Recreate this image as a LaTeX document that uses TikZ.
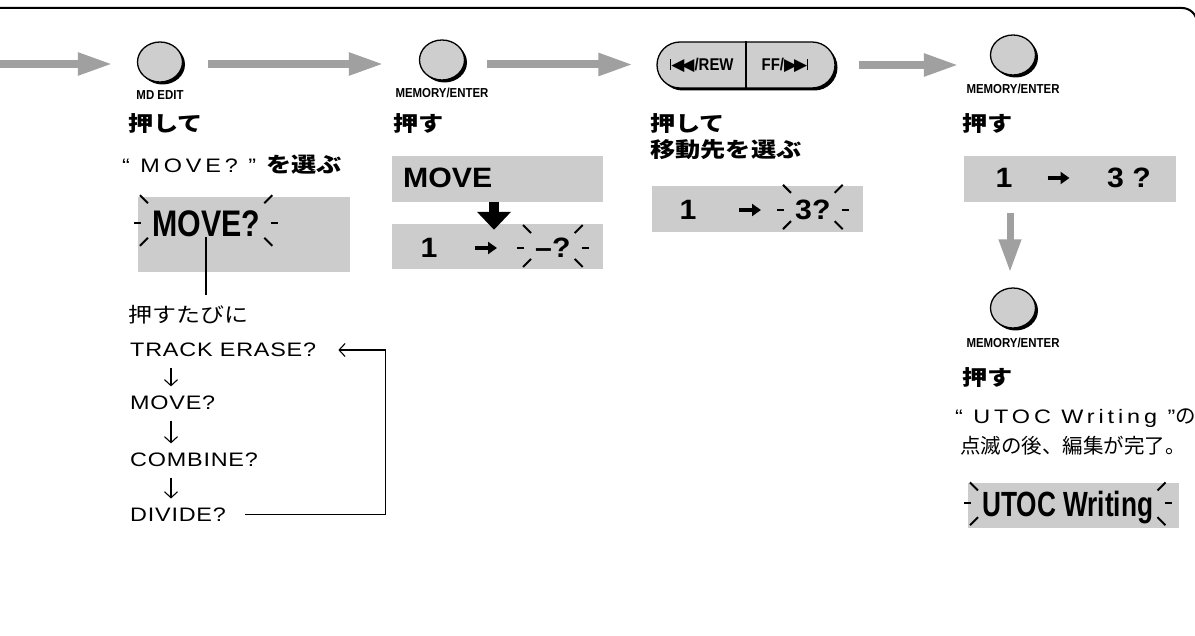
\documentclass[tikz,border=0pt]{standalone}
\usepackage{fontspec}
\setmainfont{Liberation Sans}[FakeStretch=1.2,LetterSpace=4]
\newfontfamily\quotefont{Liberation Sans}[FakeStretch=1.2,LetterSpace=20]
\newfontfamily\keyfont{Liberation Sans}[FakeStretch=0.88]
\newfontfamily\lcdfont{Liberation Sans}[FakeStretch=1.08]
\newfontfamily\lcdnarrow{Liberation Sans}[FakeStretch=0.82]
\newfontfamily\lcdslim{Liberation Sans}[FakeStretch=0.75]
\newfontfamily\jpbold{Noto Sans CJK JP}[FakeStretch=1.2]
\newfontfamily\jpwide{Noto Sans CJK JP}[FakeStretch=1.17]
\newfontfamily\jpreg{Noto Sans CJK JP}
\newfontfamily\symfont{DejaVu Sans}
\usetikzlibrary{arrows.meta,positioning,calc,shapes.geometric,shapes.misc,shadows}
\definecolor{lcdgray}{RGB}{204,204,204}
\definecolor{keygray}{RGB}{206,206,206}
\definecolor{arrowgray}{RGB}{160,160,160}

% flashing marks round a display text
\newcommand{\blinkmarks}[2][6pt]{%
  \draw[blinkln] ([xshift=-11pt]#2.west) -- ++(-7pt,0pt);
  \draw[blinkln] ([xshift=11pt]#2.east) -- ++(7pt,0pt);
  \draw[blinkln] ([shift={(-4pt,#1)}]#2.north west) -- ++(-8pt,8pt);
  \draw[blinkln] ([shift={(4pt,#1)}]#2.north east) -- ++(8pt,8pt);
  \draw[blinkln] ([shift={(-4pt,-1pt)}]#2.south west) -- ++(-8pt,-8pt);
  \draw[blinkln] ([shift={(4pt,-1pt)}]#2.south east) -- ++(8pt,-8pt);
}

\begin{document}
\begin{tikzpicture}[
  x=1pt,y=-1pt,
  panel/.style={line width=2pt,rounded corners=15pt},
  key/.style={ellipse,draw,line width=1.3pt,fill=keygray,minimum width=45pt,minimum height=40pt,inner sep=0pt,
    drop shadow={shadow xshift=2.5pt,shadow yshift=-2.5pt,fill=black,opacity=1}},
  pillkey/.style={rounded rectangle,draw,line width=1.3pt,fill=keygray,minimum width=178pt,minimum height=46pt,inner sep=0pt,
    drop shadow={shadow xshift=2.5pt,shadow yshift=-2.5pt,fill=black,opacity=1}},
  keylabel/.style={font=\keyfont\bfseries\fontsize{13pt}{15pt}\selectfont,inner sep=0pt},
  pilllabel/.style={font=\keyfont\bfseries\fontsize{17pt}{19pt}\selectfont,inner sep=0pt},
  lcd/.style={fill=lcdgray,draw=none,inner sep=0pt,minimum width=211pt,minimum height=46pt},
  lcdtxt/.style={font=\lcdfont\bfseries\fontsize{28pt}{30pt}\selectfont,inner sep=0pt},
  lcdarr/.style={line width=3.5pt,-{Triangle[length=9pt,width=12pt]}},
  jb/.style={font=\jpbold\bfseries\fontsize{21pt}{24pt}\selectfont,inner sep=0pt,anchor=west},
  jr/.style={font=\jpreg\fontsize{20.5pt}{24pt}\selectfont,inner sep=0pt,anchor=west},
  txt/.style={font=\fontsize{19.5pt}{22pt}\selectfont,inner sep=0pt,anchor=west},
  quote/.style={font=\quotefont\fontsize{19.5pt}{22pt}\selectfont,inner sep=0pt,anchor=base west},
  blinkln/.style={line width=2pt},
  conn/.style={line width=2.2pt},
  garr/.style={draw=arrowgray,line width=8pt,-{Triangle[length=35pt,width=21pt]}},
  garrdown/.style={draw=arrowgray,line width=7pt,-{Triangle[length=33pt,width=21pt]}},
  barr/.style={draw=black,line width=10pt,-{Triangle[length=18pt,width=33pt]}},
  thinarr/.style={line width=1.1pt,-{Straight Barb[length=6pt,width=13pt]}}
]
\useasboundingbox (0,0) rectangle (1195,636);
\draw[panel] (0,8) -- (1197,8) -- (1197,80);

% keys along the top
\node[key] (mdedit) at (160,62) {};
\node[keylabel,below=8pt of mdedit] (mdeditlab) {MD EDIT};
\node[key] (enter1) at (442,60) {};
\node[keylabel,below=7pt of enter1] (enter1lab) {MEMORY/ENTER};
\node[pillkey] (skip) at (746,65) {};
\draw[line width=1.2pt] (skip.north) -- (skip.south);
\node[pilllabel] (rew) at ([xshift=-44pt]skip.center) {\rule{1pt}{11pt}{\symfont\fontsize{17pt}{19pt}\selectfont ◀\kern-3pt◀}/REW};
\node[pilllabel] (ff) at ([xshift=39pt]skip.center) {FF/{\symfont\fontsize{17pt}{19pt}\selectfont ▶\kern-3pt▶}\rule{1pt}{11pt}};
\node[key] (enter2) at (1013,55) {};
\node[keylabel,below=8pt of enter2] (enter2lab) {MEMORY/ENTER};
\node[key] (enter3) at (1013,308) {};
\node[keylabel,below=9pt of enter3] (enter3lab) {MEMORY/ENTER};

\coordinate (entry) at (0,64);
\draw[garr,shorten >=24pt] (entry) -- (entry -| mdedit.west);
\draw[garr,shorten <=25pt,shorten >=35pt] ([yshift=-2pt]mdedit.east) -- ([yshift=-2pt]mdedit.east -| enter1.west);
\draw[garr,shorten <=22pt,shorten >=23pt] ([yshift=-4.5pt]enter1.east) -- ([yshift=-4.5pt]enter1.east -| skip.west);
\draw[garr,shorten <=23pt,shorten >=31pt] (skip.east) -- (skip.east -| enter2.west);

% column 1
\node[jb] (push1) at (128,124) {押して};
\node[quote] (pick1) at (122,172.5) {“ MOVE? ” {\jpbold\bfseries\fontsize{21pt}{24pt}\selectfont を選ぶ}};
\node[lcd,minimum width=212pt,minimum height=75pt] (lcd1) at (244,234.5) {};
\node[lcdtxt,font=\lcdnarrow\bfseries\fontsize{37pt}{40pt}\selectfont,anchor=west] (lcd1txt) at (152,223.5) {MOVE?};
\blinkmarks[7pt]{lcd1txt}
\node[jr,font=\jpwide\fontsize{20.5pt}{24pt}\selectfont] (each) at (128,315) {押すたびに};
\draw[conn,shorten >=10pt] (lcd1txt.south) -- (lcd1txt.south |- each.north);
\node[txt] (erase) at (130,350) {TRACK ERASE?};
\node[txt] (move) at (130,402.5) {MOVE?};
\node[txt] (combine) at (130,459.5) {COMBINE?};
\node[txt] (divide) at (130,514.5) {DIVIDE?};
\foreach \a/\b in {erase/move,move/combine,combine/divide}
  \draw[thinarr,shorten <=11pt,shorten >=9pt] ([xshift=41pt]\a.south west) -- ([xshift=41pt]\b.north west);
\draw[thinarr] ([xshift=19pt]divide.east) -- ++(140pt,0pt) |- ([xshift=22pt]erase.east);

% column 2
\node[jb] (push2) at (393,124) {押す};
\node[lcd] (lcd2) at (497.5,179) {};
\node[lcdtxt,anchor=west] (lcd2txt) at (403,178) {MOVE};
\node[lcd,minimum height=45pt] (lcd3) at (497.5,246.5) {};
\node[lcdtxt] (src2) at (429,248) {1};
\coordinate (to2) at (486,248);
\draw[lcdarr] ([xshift=-11pt]to2) -- ([xshift=11pt]to2);
\node[lcdtxt,anchor=west] (dst2) at (535,248) {–?};
\blinkmarks[5pt]{dst2}
\draw[barr] ([xshift=-3.5pt]lcd2.south) -- ([xshift=-3.5pt,yshift=-6pt]lcd3.north);

% column 3
\node[jb] (push3) at (650,124) {押して};
\node[jb] (pick3) at (650,150) {移動先を選ぶ};
\node[lcd] (lcd4) at (757.5,209) {};
\node[lcdtxt] (src3) at (688,210) {1};
\coordinate (to3) at (750,210);
\draw[lcdarr] ([xshift=-11pt]to3) -- ([xshift=11pt]to3);
\node[lcdtxt,anchor=west] (dst3) at (795,210) {3?};
\blinkmarks[7pt]{dst3}

% column 4
\node[jb] (push4) at (962,124) {押す};
\node[lcd,minimum width=212pt] (lcd5) at (1070,179) {};
\node[lcdtxt] (src4) at (1004,178) {1};
\coordinate (to4) at (1058.5,178);
\draw[lcdarr] ([xshift=-11pt]to4) -- ([xshift=11pt]to4);
\node[lcdtxt,anchor=west] (dst4) at (1107,178) {3 ?};
\draw[garrdown,shorten <=11pt,shorten >=15pt] ([xshift=-3pt]lcd5.south -| enter3.north) -- ([xshift=-3pt]enter3.north);
\node[jb] (push5) at (962,378) {押す};
\node[quote] (done1) at (955,423.5) {“ UTOC Writing ”{\jpreg\fontsize{20.5pt}{24pt}\selectfont の}};
\node[jr] (done2) at (960,446) {点滅の後、編集が完了。};
\node[lcd,minimum height=45pt] (lcd6) at (1073.5,505.5) {};
\node[lcdtxt,font=\lcdslim\bfseries\fontsize{35pt}{38pt}\selectfont,text depth=0pt,anchor=base west] (lcd6txt) at (982,516) {UTOC Writing};
\blinkmarks[0pt]{lcd6txt}
\end{tikzpicture}
\end{document}
